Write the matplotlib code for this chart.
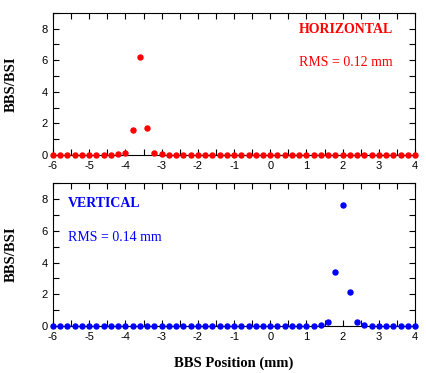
import numpy as np
import matplotlib
matplotlib.use("Agg")
import matplotlib.pyplot as plt
from matplotlib.ticker import MultipleLocator

plt.rcParams["axes.unicode_minus"] = False

# BBS scan positions (mm), step 0.2 from -6 to 4
positions = [round(-6 + 0.2 * i, 1) for i in range(51)]

# horizontal scan: only non-zero readings listed
horiz_peak = {-4.2: 0.05, -4.0: 0.12, -3.8: 1.6, -3.6: 6.2, -3.4: 1.7, -3.2: 0.12, -3.0: 0.05}
# vertical scan
vert_peak = {1.4: 0.05, 1.6: 0.23, 1.8: 3.38, 2.0: 7.65, 2.2: 2.12, 2.4: 0.23, 2.6: 0.05}

horiz_vals = [horiz_peak.get(p, 0.0) for p in positions]
vert_vals = [vert_peak.get(p, 0.0) for p in positions]

serif = "Liberation Serif"
sans = "Liberation Sans"

fig = plt.figure(figsize=(4.26, 3.73), dpi=100)
ax1 = fig.add_axes([0.1244, 0.5845, 0.850, 0.381])
ax2 = fig.add_axes([0.1244, 0.126, 0.850, 0.383])


def style_axis(ax):
    ax.set_xlim(-6, 4)
    ax.set_ylim(0, 9)
    ax.xaxis.set_major_locator(MultipleLocator(1))
    ax.xaxis.set_minor_locator(MultipleLocator(0.5))
    ax.yaxis.set_major_locator(MultipleLocator(2))
    ax.yaxis.set_minor_locator(MultipleLocator(1))
    ax.tick_params(which="both", direction="in", top=True, right=True, width=0.8)
    ax.tick_params(which="major", length=4, labelsize=8)
    ax.tick_params(which="minor", length=4)
    ax.tick_params(axis="x", pad=4)
    ax.tick_params(axis="y", pad=4)
    for lab in ax.get_xticklabels() + ax.get_yticklabels():
        lab.set_fontfamily(sans)
    for sp in ax.spines.values():
        sp.set_linewidth(0.8)
    ax.set_ylabel("BBS/BSI", fontfamily=serif, fontweight="bold", fontsize=10.5, labelpad=17)


ax1.plot(positions, horiz_vals, "o", color="#ff0000", markersize=3.6, clip_on=False, zorder=3)
style_axis(ax1)
ax1.text(0.68, 0.88, "HORIZONTAL", transform=ax1.transAxes, color="#ff0000",
         fontfamily=serif, fontweight="bold", fontsize=10, va="center")
ax1.text(0.68, 0.65, "RMS = 0.12 mm", transform=ax1.transAxes, color="#ff0000",
         fontfamily=serif, fontsize=10, va="center")

ax2.plot(positions, vert_vals, "o", color="#0000ff", markersize=3.6, clip_on=False, zorder=3)
style_axis(ax2)
ax2.text(0.041, 0.86, "VERTICAL", transform=ax2.transAxes, color="#0000ff",
         fontfamily=serif, fontweight="bold", fontsize=10, va="center")
ax2.text(0.041, 0.62, "RMS = 0.14 mm", transform=ax2.transAxes, color="#0000ff",
         fontfamily=serif, fontsize=10, va="center")
ax2.set_xlabel("BBS Position (mm)", fontfamily=serif, fontweight="bold", fontsize=10.5, labelpad=11)

fig.savefig("out.png", dpi=100)
